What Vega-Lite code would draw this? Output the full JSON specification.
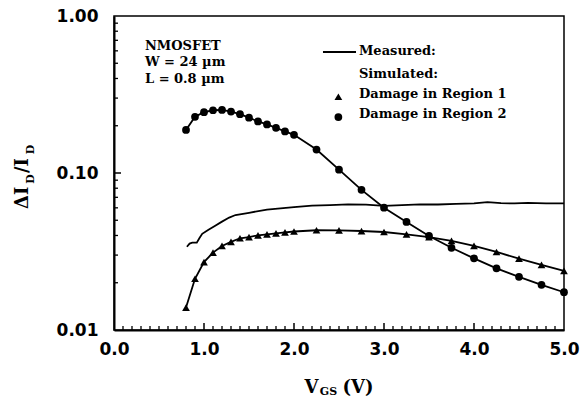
{
  "$schema": "https://vega.github.io/schema/vega-lite/v6.json",
  "width": 450,
  "height": 314,
  "autosize": "none",
  "padding": {"left": 114, "top": 16, "right": 16, "bottom": 74},
  "background": "white",
  "config": {
    "view": {"stroke": "black", "strokeWidth": 1.5},
    "axis": {"grid": false}
  },
  "datasets": {
    "curves": [
      {"s": "Measured", "v": 0.81, "r": 0.0339},
      {"s": "Measured", "v": 0.84, "r": 0.0355},
      {"s": "Measured", "v": 0.87, "r": 0.036},
      {"s": "Measured", "v": 0.92, "r": 0.036},
      {"s": "Measured", "v": 0.95, "r": 0.0385},
      {"s": "Measured", "v": 0.98, "r": 0.041},
      {"s": "Measured", "v": 1.05, "r": 0.0435},
      {"s": "Measured", "v": 1.12, "r": 0.046},
      {"s": "Measured", "v": 1.2, "r": 0.049},
      {"s": "Measured", "v": 1.28, "r": 0.052},
      {"s": "Measured", "v": 1.35, "r": 0.054},
      {"s": "Measured", "v": 1.5, "r": 0.0558},
      {"s": "Measured", "v": 1.7, "r": 0.0585},
      {"s": "Measured", "v": 1.85, "r": 0.0595},
      {"s": "Measured", "v": 2.0, "r": 0.0607},
      {"s": "Measured", "v": 2.2, "r": 0.062},
      {"s": "Measured", "v": 2.4, "r": 0.0625},
      {"s": "Measured", "v": 2.6, "r": 0.0632},
      {"s": "Measured", "v": 2.8, "r": 0.0628},
      {"s": "Measured", "v": 3.0, "r": 0.0618},
      {"s": "Measured", "v": 3.2, "r": 0.0625},
      {"s": "Measured", "v": 3.4, "r": 0.0632},
      {"s": "Measured", "v": 3.6, "r": 0.063},
      {"s": "Measured", "v": 3.8, "r": 0.0635},
      {"s": "Measured", "v": 4.0, "r": 0.064},
      {"s": "Measured", "v": 4.15, "r": 0.0652},
      {"s": "Measured", "v": 4.3, "r": 0.0643},
      {"s": "Measured", "v": 4.45, "r": 0.064},
      {"s": "Measured", "v": 4.6, "r": 0.0645},
      {"s": "Measured", "v": 4.8, "r": 0.064},
      {"s": "Measured", "v": 5.0, "r": 0.064},
      {"s": "Region 1", "v": 0.8, "r": 0.0139},
      {"s": "Region 1", "v": 0.9, "r": 0.0212},
      {"s": "Region 1", "v": 1.0, "r": 0.0271},
      {"s": "Region 1", "v": 1.1, "r": 0.0311},
      {"s": "Region 1", "v": 1.2, "r": 0.0343},
      {"s": "Region 1", "v": 1.3, "r": 0.0364},
      {"s": "Region 1", "v": 1.4, "r": 0.0384},
      {"s": "Region 1", "v": 1.5, "r": 0.0391},
      {"s": "Region 1", "v": 1.6, "r": 0.0401},
      {"s": "Region 1", "v": 1.7, "r": 0.0407},
      {"s": "Region 1", "v": 1.8, "r": 0.0413},
      {"s": "Region 1", "v": 1.9, "r": 0.0419},
      {"s": "Region 1", "v": 2.0, "r": 0.0424},
      {"s": "Region 1", "v": 2.25, "r": 0.0432},
      {"s": "Region 1", "v": 2.5, "r": 0.0431},
      {"s": "Region 1", "v": 2.75, "r": 0.0427},
      {"s": "Region 1", "v": 3.0, "r": 0.0421},
      {"s": "Region 1", "v": 3.25, "r": 0.0407},
      {"s": "Region 1", "v": 3.5, "r": 0.0391},
      {"s": "Region 1", "v": 3.75, "r": 0.0369},
      {"s": "Region 1", "v": 4.0, "r": 0.0343},
      {"s": "Region 1", "v": 4.25, "r": 0.0314},
      {"s": "Region 1", "v": 4.5, "r": 0.0285},
      {"s": "Region 1", "v": 4.75, "r": 0.026},
      {"s": "Region 1", "v": 5.0, "r": 0.0238},
      {"s": "Region 2", "v": 0.8, "r": 0.188},
      {"s": "Region 2", "v": 0.9, "r": 0.228},
      {"s": "Region 2", "v": 1.0, "r": 0.244},
      {"s": "Region 2", "v": 1.1, "r": 0.251},
      {"s": "Region 2", "v": 1.2, "r": 0.252},
      {"s": "Region 2", "v": 1.3, "r": 0.246},
      {"s": "Region 2", "v": 1.4, "r": 0.237},
      {"s": "Region 2", "v": 1.5, "r": 0.225},
      {"s": "Region 2", "v": 1.6, "r": 0.213},
      {"s": "Region 2", "v": 1.7, "r": 0.204},
      {"s": "Region 2", "v": 1.8, "r": 0.194},
      {"s": "Region 2", "v": 1.9, "r": 0.184},
      {"s": "Region 2", "v": 2.0, "r": 0.175},
      {"s": "Region 2", "v": 2.25, "r": 0.141},
      {"s": "Region 2", "v": 2.5, "r": 0.105},
      {"s": "Region 2", "v": 2.75, "r": 0.0781},
      {"s": "Region 2", "v": 3.0, "r": 0.0601},
      {"s": "Region 2", "v": 3.25, "r": 0.0488},
      {"s": "Region 2", "v": 3.5, "r": 0.0397},
      {"s": "Region 2", "v": 3.75, "r": 0.0334},
      {"s": "Region 2", "v": 4.0, "r": 0.0286},
      {"s": "Region 2", "v": 4.25, "r": 0.0247},
      {"s": "Region 2", "v": 4.5, "r": 0.0218},
      {"s": "Region 2", "v": 4.75, "r": 0.0194},
      {"s": "Region 2", "v": 5.0, "r": 0.0174}
    ],
    "xMinor": [
      {"v": 0.1, "r": 0.01}, {"v": 0.2, "r": 0.01}, {"v": 0.3, "r": 0.01}, {"v": 0.4, "r": 0.01}, {"v": 0.5, "r": 0.01}, {"v": 0.6, "r": 0.01}, {"v": 0.7, "r": 0.01}, {"v": 0.8, "r": 0.01}, {"v": 0.9, "r": 0.01},
      {"v": 1.1, "r": 0.01}, {"v": 1.2, "r": 0.01}, {"v": 1.3, "r": 0.01}, {"v": 1.4, "r": 0.01}, {"v": 1.5, "r": 0.01}, {"v": 1.6, "r": 0.01}, {"v": 1.7, "r": 0.01}, {"v": 1.8, "r": 0.01}, {"v": 1.9, "r": 0.01},
      {"v": 2.1, "r": 0.01}, {"v": 2.2, "r": 0.01}, {"v": 2.3, "r": 0.01}, {"v": 2.4, "r": 0.01}, {"v": 2.5, "r": 0.01}, {"v": 2.6, "r": 0.01}, {"v": 2.7, "r": 0.01}, {"v": 2.8, "r": 0.01}, {"v": 2.9, "r": 0.01},
      {"v": 3.1, "r": 0.01}, {"v": 3.2, "r": 0.01}, {"v": 3.3, "r": 0.01}, {"v": 3.4, "r": 0.01}, {"v": 3.5, "r": 0.01}, {"v": 3.6, "r": 0.01}, {"v": 3.7, "r": 0.01}, {"v": 3.8, "r": 0.01}, {"v": 3.9, "r": 0.01},
      {"v": 4.1, "r": 0.01}, {"v": 4.2, "r": 0.01}, {"v": 4.3, "r": 0.01}, {"v": 4.4, "r": 0.01}, {"v": 4.5, "r": 0.01}, {"v": 4.6, "r": 0.01}, {"v": 4.7, "r": 0.01}, {"v": 4.8, "r": 0.01}, {"v": 4.9, "r": 0.01}
    ],
    "xMajor": [{"v": 1, "r": 0.01}, {"v": 2, "r": 0.01}, {"v": 3, "r": 0.01}, {"v": 4, "r": 0.01}],
    "yMinor": [
      {"r": 0.02, "v": 0}, {"r": 0.03, "v": 0}, {"r": 0.04, "v": 0}, {"r": 0.05, "v": 0}, {"r": 0.06, "v": 0}, {"r": 0.07, "v": 0}, {"r": 0.08, "v": 0}, {"r": 0.09, "v": 0},
      {"r": 0.2, "v": 0}, {"r": 0.3, "v": 0}, {"r": 0.4, "v": 0}, {"r": 0.5, "v": 0}, {"r": 0.6, "v": 0}, {"r": 0.7, "v": 0}, {"r": 0.8, "v": 0}, {"r": 0.9, "v": 0}
    ],
    "yMajor": [{"r": 0.1, "v": 0}],
    "notes": [
      {"t": "NMOSFET", "x": 0.344, "y": 0.644},
      {"t": "W = 24 µm", "x": 0.344, "y": 0.509},
      {"t": "L = 0.8 µm", "x": 0.344, "y": 0.397},
      {"t": "Measured:", "x": 2.722, "y": 0.598},
      {"t": "Simulated:", "x": 2.722, "y": 0.427},
      {"t": "Damage in Region 1", "x": 2.722, "y": 0.319},
      {"t": "Damage in Region 2", "x": 2.722, "y": 0.238}
    ],
    "legendLine": [{"x": 2.322, "x2": 2.689, "y": 0.59}],
    "legendSym": [
      {"s": "Region 1", "x": 2.493, "y": 0.306},
      {"s": "Region 2", "x": 2.493, "y": 0.227}
    ],
    "xTitleBig": [
      {"t": "V", "x": 2.194, "y": 0.00397},
      {"t": "(V)", "x": 2.711, "y": 0.00397}
    ],
    "xTitleSub": [{"t": "GS", "x": 2.383, "y": 0.00383}],
    "yTitleBig": [
      {"t": "ΔI", "x": -1.011, "y": 0.0695},
      {"t": "/I", "x": -1.011, "y": 0.1115}
    ],
    "yTitleSub": [
      {"t": "D", "x": -0.92, "y": 0.0915},
      {"t": "D", "x": -0.92, "y": 0.141}
    ]
  },
  "resolve": {"axis": {"x": "independent", "y": "independent"}},
  "layer": [
    {
      "data": {"name": "curves"},
      "mark": {"type": "line", "color": "black", "strokeWidth": 1.8},
      "encoding": {
        "x": {
          "field": "v", "type": "quantitative",
          "scale": {"domain": [0, 5], "nice": false},
          "axis": {
            "orient": "bottom", "values": [0, 1, 2, 3, 4, 5], "format": ".1f",
            "ticks": false, "domainColor": "black", "domainWidth": 2,
            "labelFont": "DejaVu Sans", "labelFontWeight": "bold", "labelFontSize": 17,
            "labelColor": "black", "labelPadding": 11, "labelFlush": false,
            "labelOverlap": false, "title": null, "grid": false
          }
        },
        "y": {
          "field": "r", "type": "quantitative",
          "scale": {"type": "log", "domain": [0.01, 1], "nice": false},
          "axis": {
            "orient": "left", "values": [0.01, 0.1, 1], "format": ".2f",
            "ticks": false, "domainColor": "black", "domainWidth": 2,
            "labelFont": "DejaVu Sans", "labelFontWeight": "bold", "labelFontSize": 17,
            "labelColor": "black", "labelPadding": 16, "labelFlush": false,
            "labelOverlap": false, "title": null, "grid": false
          }
        },
        "detail": {"field": "s", "type": "nominal"}
      }
    },
    {
      "data": {"name": "xMinor"},
      "mark": {"type": "tick", "orient": "vertical", "size": 4, "thickness": 1.3, "yOffset": -2, "color": "black", "opacity": 1},
      "encoding": {
        "x": {"field": "v", "type": "quantitative", "scale": {"domain": [0, 5], "nice": false}, "axis": null},
        "y": {"field": "r", "type": "quantitative", "scale": {"type": "log", "domain": [0.01, 1], "nice": false}, "axis": null}
      }
    },
    {
      "data": {"name": "xMajor"},
      "mark": {"type": "tick", "orient": "vertical", "size": 7, "thickness": 1.5, "yOffset": -3.5, "color": "black", "opacity": 1},
      "encoding": {
        "x": {"field": "v", "type": "quantitative", "scale": {"domain": [0, 5], "nice": false}, "axis": null},
        "y": {"field": "r", "type": "quantitative", "scale": {"type": "log", "domain": [0.01, 1], "nice": false}, "axis": null}
      }
    },
    {
      "data": {"name": "yMinor"},
      "mark": {"type": "tick", "orient": "horizontal", "size": 4, "thickness": 1.3, "xOffset": 2, "color": "black", "opacity": 1},
      "encoding": {
        "x": {"field": "v", "type": "quantitative", "scale": {"domain": [0, 5], "nice": false}, "axis": null},
        "y": {"field": "r", "type": "quantitative", "scale": {"type": "log", "domain": [0.01, 1], "nice": false}, "axis": null}
      }
    },
    {
      "data": {"name": "yMajor"},
      "mark": {"type": "tick", "orient": "horizontal", "size": 7, "thickness": 1.5, "xOffset": 3.5, "color": "black", "opacity": 1},
      "encoding": {
        "x": {"field": "v", "type": "quantitative", "scale": {"domain": [0, 5], "nice": false}, "axis": null},
        "y": {"field": "r", "type": "quantitative", "scale": {"type": "log", "domain": [0.01, 1], "nice": false}, "axis": null}
      }
    },
    {
      "data": {"name": "curves"},
      "transform": [{"filter": "datum.s !== 'Measured'"}],
      "mark": {"type": "point", "filled": true, "color": "black", "size": 60, "opacity": 1},
      "encoding": {
        "x": {"field": "v", "type": "quantitative", "scale": {"domain": [0, 5], "nice": false}, "axis": null},
        "y": {"field": "r", "type": "quantitative", "scale": {"type": "log", "domain": [0.01, 1], "nice": false}, "axis": null},
        "shape": {
          "field": "s", "type": "nominal",
          "scale": {"domain": ["Region 1", "Region 2"], "range": ["triangle-up", "circle"]},
          "legend": null
        }
      }
    },
    {
      "data": {"name": "legendSym"},
      "mark": {"type": "point", "filled": true, "color": "black", "size": 60, "opacity": 1},
      "encoding": {
        "x": {"field": "x", "type": "quantitative", "scale": {"domain": [0, 5], "nice": false}, "axis": null},
        "y": {"field": "y", "type": "quantitative", "scale": {"type": "log", "domain": [0.01, 1], "nice": false}, "axis": null},
        "shape": {
          "field": "s", "type": "nominal",
          "scale": {"domain": ["Region 1", "Region 2"], "range": ["triangle-up", "circle"]},
          "legend": null
        }
      }
    },
    {
      "data": {"name": "legendLine"},
      "mark": {"type": "rule", "color": "black", "strokeWidth": 1.8},
      "encoding": {
        "x": {"field": "x", "type": "quantitative", "scale": {"domain": [0, 5], "nice": false}, "axis": null},
        "x2": {"field": "x2"},
        "y": {"field": "y", "type": "quantitative", "scale": {"type": "log", "domain": [0.01, 1], "nice": false}, "axis": null}
      }
    },
    {
      "data": {"name": "notes"},
      "mark": {"type": "text", "font": "DejaVu Serif", "fontWeight": "bold", "fontSize": 13, "align": "left", "baseline": "middle", "color": "black"},
      "encoding": {
        "x": {"field": "x", "type": "quantitative", "scale": {"domain": [0, 5], "nice": false}, "axis": null},
        "y": {"field": "y", "type": "quantitative", "scale": {"type": "log", "domain": [0.01, 1], "nice": false}, "axis": null},
        "text": {"field": "t"}
      }
    },
    {
      "data": {"name": "xTitleBig"},
      "mark": {"type": "text", "font": "DejaVu Serif", "fontWeight": "bold", "fontSize": 18, "align": "center", "baseline": "alphabetic", "color": "black"},
      "encoding": {
        "x": {"field": "x", "type": "quantitative", "scale": {"domain": [0, 5], "nice": false}, "axis": null},
        "y": {"field": "y", "type": "quantitative", "scale": {"type": "log", "domain": [0.01, 1], "nice": false}, "axis": null},
        "text": {"field": "t"}
      }
    },
    {
      "data": {"name": "xTitleSub"},
      "mark": {"type": "text", "font": "DejaVu Serif", "fontWeight": "bold", "fontSize": 11, "align": "center", "baseline": "alphabetic", "color": "black"},
      "encoding": {
        "x": {"field": "x", "type": "quantitative", "scale": {"domain": [0, 5], "nice": false}, "axis": null},
        "y": {"field": "y", "type": "quantitative", "scale": {"type": "log", "domain": [0.01, 1], "nice": false}, "axis": null},
        "text": {"field": "t"}
      }
    },
    {
      "data": {"name": "yTitleBig"},
      "mark": {"type": "text", "font": "DejaVu Serif", "fontWeight": "bold", "fontSize": 18, "align": "center", "baseline": "middle", "angle": 270, "color": "black"},
      "encoding": {
        "x": {"field": "x", "type": "quantitative", "scale": {"domain": [0, 5], "nice": false}, "axis": null},
        "y": {"field": "y", "type": "quantitative", "scale": {"type": "log", "domain": [0.01, 1], "nice": false}, "axis": null},
        "text": {"field": "t"}
      }
    },
    {
      "data": {"name": "yTitleSub"},
      "mark": {"type": "text", "font": "DejaVu Serif", "fontWeight": "bold", "fontSize": 11, "align": "center", "baseline": "middle", "angle": 270, "color": "black"},
      "encoding": {
        "x": {"field": "x", "type": "quantitative", "scale": {"domain": [0, 5], "nice": false}, "axis": null},
        "y": {"field": "y", "type": "quantitative", "scale": {"type": "log", "domain": [0.01, 1], "nice": false}, "axis": null},
        "text": {"field": "t"}
      }
    }
  ]
}
